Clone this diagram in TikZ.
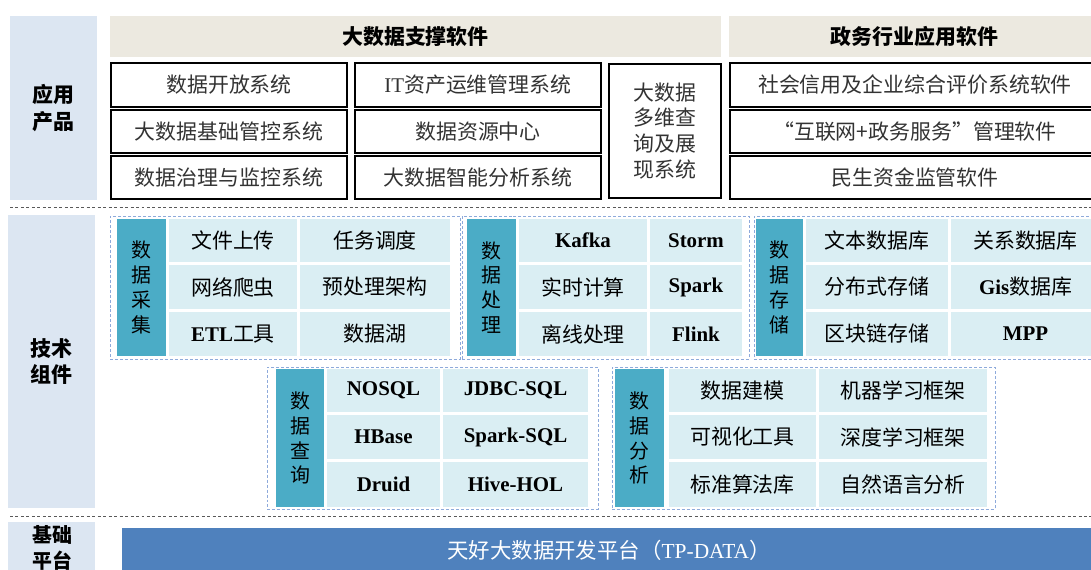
\documentclass[tikz,border=0pt]{standalone}
\usepackage{fontspec}
\setmainfont{Noto Sans CJK SC}
\newfontfamily\lat{Liberation Serif}
\definecolor{sideblue}{HTML}{DCE6F2}
\definecolor{beige}{HTML}{ECE9E0}
\definecolor{tealc}{HTML}{4BACC6}
\definecolor{cellc}{HTML}{DAEEF3}
\definecolor{barc}{HTML}{4F81BD}
\definecolor{grpc}{HTML}{8EAADB}
\definecolor{sepc}{HTML}{595959}
\definecolor{txtg}{HTML}{333333}
\newcommand\latb[1]{{\lat\bfseries #1}}
\newcommand\latr[1]{{\lat #1}}
\newcommand\bx[6]{\node[#6,inner sep=0pt,outer sep=0pt,minimum width={(#4-#2)*1bp},minimum height={(#5-#3)*1bp}] (#1) at ({(#2+#4)/2},{(#3+#5)/2})}
\tikzset{
  sidebox/.style={fill=sideblue,align=center,font=\fontsize{21}{27}\selectfont\bfseries},
  hdrbox/.style={fill=beige,font=\fontsize{21}{26}\selectfont\bfseries},
  appbox/.style={draw=black,line width=1.5pt,fill=white,align=center,text=txtg,font=\fontsize{21}{26}\selectfont},
  grpbox/.style={draw=grpc,densely dashed,line width=0.8pt},
  labbox/.style={fill=tealc,align=center,font=\fontsize{20}{25}\selectfont},
  cellbox/.style={fill=cellc,align=center,font=\fontsize{21}{26}\selectfont},
  barbox/.style={fill=barc},
  sepline/.style={draw=sepc,dash pattern=on 3pt off 2.5pt,line width=0.9pt},
}
\begin{document}
\begin{tikzpicture}[x=1bp,y=-1bp]
\useasboundingbox (0,0) rectangle (1091,570);
% ---------- top section
\bx{side1}{10}{16}{97}{200}{sidebox}{};
\node[font=\fontsize{21}{27}\selectfont\bfseries,align=center] (side1t) at (side1.center) {应用\\产品};
\bx{hdrL}{110}{16}{721}{57}{hdrbox}{大数据支撑软件};
\bx{hdrR}{729}{16}{1100}{57}{hdrbox}{政务行业应用软件};
\bx{a11}{111}{63}{347}{107}{appbox}{数据开放系统};
\bx{a21}{111}{110}{347}{153}{appbox}{大数据基础管控系统};
\bx{a31}{111}{156}{347}{199}{appbox}{数据治理与监控系统};
\bx{a12}{355}{63}{601}{107}{appbox}{\latr{IT}资产运维管理系统};
\bx{a22}{355}{110}{601}{153}{appbox}{数据资源中心};
\bx{a32}{355}{156}{601}{199}{appbox}{大数据智能分析系统};
\bx{a4}{609}{64}{721}{198}{appbox}{大数据\\多维查\\询及展\\现系统};
\bx{r1}{730}{63}{1100}{107}{appbox}{社会信用及企业综合评价系统软件};
\bx{r2}{730}{110}{1100}{153}{appbox}{“互联网+政务服务”管理软件};
\bx{r3}{730}{156}{1100}{199}{appbox}{民生资金监管软件};
\coordinate (s1a) at (10,207.5);
\coordinate (s1b) at (1091,207.5);
\draw[sepline] (s1a) -- (s1b);
% ---------- middle section
\bx{side2}{8}{215}{95}{508}{sidebox}{技术\\组件};
% group 1
\bx{g1}{110}{216}{460}{359}{grpbox}{};
\bx{l1}{117}{219}{166}{356}{labbox}{数\\据\\采\\集};
\bx{c111}{169}{219}{297}{262}{cellbox}{文件上传};
\bx{c112}{300}{219}{450}{262}{cellbox}{任务调度};
\bx{c121}{169}{265}{297}{309}{cellbox}{网络爬虫};
\bx{c122}{300}{265}{450}{309}{cellbox}{预处理架构};
\bx{c131}{169}{312}{297}{356}{cellbox}{\latb{ETL}工具};
\bx{c132}{300}{312}{450}{356}{cellbox}{数据湖};
% group 2
\bx{g2}{462}{216}{749}{359}{grpbox}{};
\bx{l2}{467}{219}{516}{356}{labbox}{数\\据\\处\\理};
\bx{c211}{519}{219}{647}{262}{cellbox}{\latb{Kafka}};
\bx{c212}{650}{219}{742}{262}{cellbox}{\latb{Storm}};
\bx{c221}{519}{265}{647}{309}{cellbox}{实时计算};
\bx{c222}{650}{265}{742}{309}{cellbox}{\latb{Spark}};
\bx{c231}{519}{312}{647}{356}{cellbox}{离线处理};
\bx{c232}{650}{312}{742}{356}{cellbox}{\latb{Flink}};
% group 3
\bx{g3}{754}{216}{1104}{359}{grpbox}{};
\bx{l3}{756}{219}{803}{356}{labbox}{数\\据\\存\\储};
\bx{c311}{806}{219}{948}{262}{cellbox}{文本数据库};
\bx{c312}{951}{219}{1100}{262}{cellbox}{关系数据库};
\bx{c321}{806}{265}{948}{309}{cellbox}{分布式存储};
\bx{c322}{951}{265}{1100}{309}{cellbox}{\latb{Gis}数据库};
\bx{c331}{806}{312}{948}{356}{cellbox}{区块链存储};
\bx{c332}{951}{312}{1100}{356}{cellbox}{\latb{MPP}};
% group 4
\bx{g4}{267}{367}{598}{509}{grpbox}{};
\bx{l4}{276}{369}{324}{507}{labbox}{数\\据\\查\\询};
\bx{c411}{327}{369}{440}{412}{cellbox}{\latb{NOSQL}};
\bx{c412}{443}{369}{588}{412}{cellbox}{\latb{JDBC-SQL}};
\bx{c421}{327}{415}{440}{459}{cellbox}{\latb{HBase}};
\bx{c422}{443}{415}{588}{459}{cellbox}{\latb{Spark-SQL}};
\bx{c431}{327}{462}{440}{507}{cellbox}{\latb{Druid}};
\bx{c432}{443}{462}{588}{507}{cellbox}{\latb{Hive-HOL}};
% group 5
\bx{g5}{612}{367}{995}{509}{grpbox}{};
\bx{l5}{615}{369}{664}{507}{labbox}{数\\据\\分\\析};
\bx{c511}{669}{369}{816}{412}{cellbox}{数据建模};
\bx{c512}{819}{369}{987}{412}{cellbox}{机器学习框架};
\bx{c521}{669}{415}{816}{459}{cellbox}{可视化工具};
\bx{c522}{819}{415}{987}{459}{cellbox}{深度学习框架};
\bx{c531}{669}{462}{816}{507}{cellbox}{标准算法库};
\bx{c532}{819}{462}{987}{507}{cellbox}{自然语言分析};
\coordinate (s2a) at (10,516);
\coordinate (s2b) at (1091,516);
\draw[sepline] (s2a) -- (s2b);
% ---------- bottom section
\bx{side3}{8}{522}{95}{600}{fill=sideblue}{};
\node[font=\fontsize{20}{26}\selectfont\bfseries,align=center,anchor=north] (side3t) at (52,522) {基础\\平台};
\bx{bar}{122}{528}{1100}{600}{barbox}{};
\node[text=white,font=\fontsize{21.5}{24}\selectfont] (bart) at (609,550) {天好大数据开发平台（\latr{TP-DATA}）};
\end{tikzpicture}
\end{document}
